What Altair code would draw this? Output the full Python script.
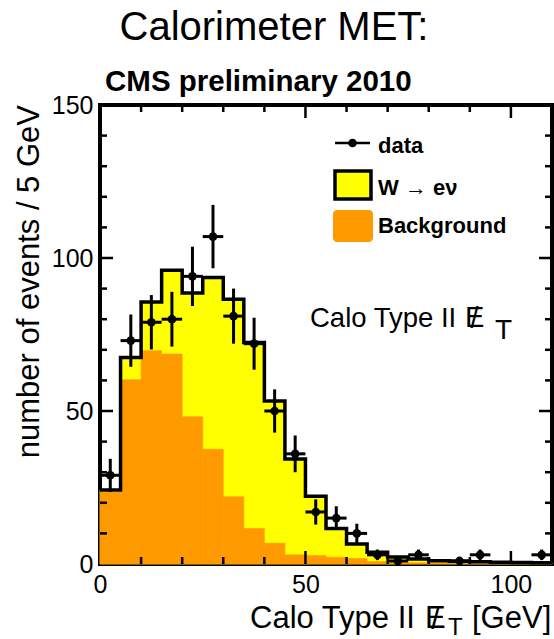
import altair as alt
import pandas as pd
import numpy as np

# ---------------- data ----------------
bin_lo = list(range(0, 110, 5))          # 5 GeV bins, 0..110 GeV
bkg = [23.5, 60.2, 69.7, 68.6, 48.1, 37.5, 22.0, 11.6, 6.8, 3.0, 2.8,
       2.2, 1.8, 0.8, 0.5, 0.4, 0.3, 0.3, 0.2, 0.2, 0.2, 0.2]
total = [24.2, 67.5, 85.6, 96.0, 88.6, 93.6, 86.5, 72.4, 53.3, 34.3, 22.1,
         11.6, 6.5, 3.8, 2.3, 1.6, 1.1, 0.9, 0.7, 0.6, 0.5, 0.4]
data_counts = [29, 73, 79, 80, 94, 107, 81, 72, 50, 36, 17,
               15, 10, 3, 1, 3, 0, 1, 3, 0, 0, 3]

x_labels = [0, 50, 100]
y_labels = [0, 50, 100, 150]
x_minor = [10, 20, 30, 40, 60, 70, 80, 90]
x_major = [50, 100]
y_minor = [10, 20, 30, 40, 60, 70, 80, 90, 110, 120, 130, 140]
y_major = [50, 100]

BIN_W = 5
FONT = "Liberation Sans"
YELLOW = "#FFFF00"
ORANGE = "#FF9900"

W, H = 452, 459

xs = alt.Scale(domain=[0, 110], nice=False, zero=False)
ys = alt.Scale(domain=[0, 150], nice=False, zero=False)

hist = pd.DataFrame({
    "lo": bin_lo,
    "hi": [b + BIN_W for b in bin_lo],
    "bkg": bkg,
    "total": total,
})

step = pd.DataFrame({
    "x": bin_lo + [bin_lo[-1] + BIN_W],
    "y": total + [total[-1]],
})

pts = pd.DataFrame({"lo": bin_lo, "n": data_counts})
pts = pts[pts["n"] > 0].copy()
pts["c"] = pts["lo"] + BIN_W / 2
pts["hi"] = pts["lo"] + BIN_W
pts["elo"] = pts["n"] - np.sqrt(pts["n"])
pts["ehi"] = pts["n"] + np.sqrt(pts["n"])

x_axis = alt.Axis(values=x_labels, ticks=False, domain=False, grid=False,
                  labelFont=FONT, labelFontSize=25, labelColor="black",
                  labelPadding=8, labelFlush=False, title=None, format="d")
y_axis = alt.Axis(values=y_labels, ticks=False, domain=False, grid=False,
                  labelFont=FONT, labelFontSize=25, labelColor="black",
                  labelPadding=7, labelFlush=False, title=None, format="d")


def X(f):
    return alt.X(f, scale=xs, axis=x_axis)


def Y(f):
    return alt.Y(f, scale=ys, axis=y_axis)


yellow = alt.Chart(hist).mark_rect(
    color=YELLOW, stroke=YELLOW, strokeWidth=0.6).encode(
    x=X("lo:Q"), x2="hi:Q", y=Y("total:Q"), y2=alt.datum(0),
)

orange = alt.Chart(hist).mark_rect(
    color=ORANGE, stroke=ORANGE, strokeWidth=0.6).encode(
    x=X("lo:Q"), x2="hi:Q", y=Y("bkg:Q"), y2=alt.datum(0),
)

outline = alt.Chart(step).mark_line(
    interpolate="step-after", color="black", strokeWidth=3.5,
    strokeJoin="miter"
).encode(x=X("x:Q"), y=Y("y:Q"))

vbars = alt.Chart(pts).mark_rule(color="black", strokeWidth=3).encode(
    x=X("c:Q"), y=Y("elo:Q"), y2="ehi:Q",
)
hbars = alt.Chart(pts).mark_rule(color="black", strokeWidth=3).encode(
    x=X("lo:Q"), x2="hi:Q", y=Y("n:Q"),
)
dots = alt.Chart(pts).mark_circle(color="black", opacity=1, size=75).encode(
    x=X("c:Q"), y=Y("n:Q"),
)


def xticks(vals, length):
    df = pd.DataFrame({"v": vals})
    bottom = alt.Chart(df).mark_rule(color="black", strokeWidth=2.5).encode(
        x=X("v:Q"), y=alt.value(H), y2=alt.value(H - length))
    top = alt.Chart(df).mark_rule(color="black", strokeWidth=2.5).encode(
        x=X("v:Q"), y=alt.value(0), y2=alt.value(length))
    return [bottom, top]


def yticks(vals, length):
    df = pd.DataFrame({"v": vals})
    left = alt.Chart(df).mark_rule(color="black", strokeWidth=2.5).encode(
        y=Y("v:Q"), x=alt.value(0), x2=alt.value(length))
    right = alt.Chart(df).mark_rule(color="black", strokeWidth=2.5).encode(
        y=Y("v:Q"), x=alt.value(W), x2=alt.value(W - length))
    return [left, right]


def label(t, x, y, size, bold=False, align="left", baseline="alphabetic",
          angle=0):
    kw = dict(font=FONT, fontSize=size, color="black", align=align,
              baseline=baseline, fontWeight="bold" if bold else "normal")
    if angle:
        kw["angle"] = angle
    return alt.Chart(pd.DataFrame({"t": [t]})).mark_text(**kw).encode(
        text="t:N", x=alt.value(x), y=alt.value(y))


one = pd.DataFrame({"k": [0]})

legend_line = alt.Chart(one).mark_rule(color="black", strokeWidth=2.5).encode(
    x=alt.value(235), x2=alt.value(270), y=alt.value(38))
legend_dot = alt.Chart(one).mark_circle(color="black", opacity=1, size=75).encode(
    x=alt.value(252.5), y=alt.value(38))
legend_yellow = alt.Chart(one).mark_rect(
    color=YELLOW, stroke="black", strokeWidth=3.5).encode(
    x=alt.value(235), x2=alt.value(271), y=alt.value(66), y2=alt.value(94))
legend_orange = alt.Chart(one).mark_rect(color=ORANGE, cornerRadius=4).encode(
    x=alt.value(233), x2=alt.value(273), y=alt.value(105), y2=alt.value(137))

texts = [
    label("Calorimeter MET:", 174, -65, 40, align="center"),
    label("CMS preliminary 2010", 5, -14, 29.5, bold=True),
    label("number of events / 5 GeV", -70, 0, 31, align="right",
          baseline="middle", angle=270),
    # x-axis title
    label("Calo Type II", 150, 523, 31),
    label("E", 325, 523, 31),
    label("/", 335.5, 524, 31, align="center"),
    label("T", 348, 530, 24),
    label("[GeV]", 372, 523, 31),
    # in-plot annotation
    label("Calo Type II", 210, 222, 27.5),
    label("E", 365, 222, 29),
    label("/", 374.5, 223, 29, align="center"),
    label("T", 395, 234, 28),
    # legend texts
    label("data", 278, 48, 22, bold=True),
    label("W \u2192 e\u03bd", 278, 90, 22, bold=True),
    label("Background", 278, 128, 22, bold=True),
]

layers = [yellow, orange, outline]
layers += xticks(x_minor, 7) + xticks(x_major, 13)
layers += yticks(y_minor, 7) + yticks(y_major, 13)
layers += [vbars, hbars, dots, legend_line, legend_dot, legend_yellow,
           legend_orange]
layers += texts

chart = alt.layer(*layers).properties(
    width=W, height=H,
    autosize="none",
    padding={"left": 100, "top": 105, "right": 2, "bottom": 75},
    background="white",
).configure_view(stroke="black", strokeWidth=4)

chart.save("out.html", embed_options={"renderer": "svg", "actions": False})
